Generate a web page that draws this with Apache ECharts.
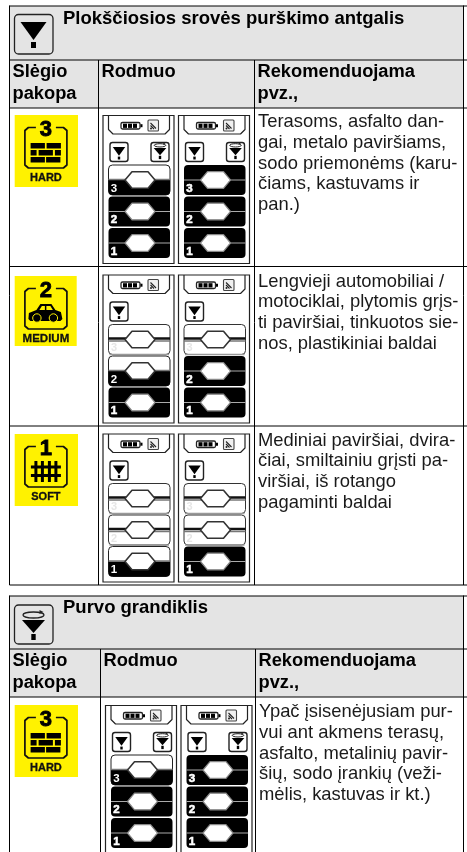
<!DOCTYPE html>
<html><head><meta charset="utf-8">
<style>html,body{margin:0;padding:0;background:#fff}#c{width:467px;height:852px}</style>
<script src="https://cdn.jsdelivr.net/npm/echarts@6/dist/echarts.min.js"></script></head>
<body><div id="c"></div>
<script>
var titles = ['Plokščiosios srovės purškimo antgalis', 'Purvo grandiklis'];
var colHeader1 = ['Slėgio', 'pakopa'];
var colHeader2 = ['Rodmuo'];
var colHeader3 = ['Rekomenduojama', 'pvz.,'];
var levelNames = ['HARD', 'MEDIUM', 'SOFT', 'HARD'];
var levelDigits = ['3', '2', '1', '3'];
var recommendations = [
  ['Terasoms, asfalto dan-', 'gai, metalo paviršiams,', 'sodo priemonėms (karu-', 'čiams, kastuvams ir', 'pan.)'],
  ['Lengvieji automobiliai /', 'motociklai, plytomis grįs-', 'ti paviršiai, tinkuotos sie-', 'nos, plastikiniai baldai'],
  ['Mediniai paviršiai, dvira-', 'čiai, smiltainiu grįsti pa-', 'viršiai, iš rotango', 'pagaminti baldai'],
  ['Ypač įsisenėjusiam pur-', 'vui ant akmens terasų,', 'asfalto, metalinių pavir-', 'šių, sodo įrankių (veži-', 'mėlis, kastuvas ir kt.)']
];
// segment state top→bottom: 0 empty, 1 half, 2 full
var leftPanels  = [[1,2,2],[0,1,2],[0,0,1],[1,2,2]];
var rightPanels = [[2,2,2],[0,2,2],[0,0,2],[2,2,2]];
var showFunnel  = [true,false,false,true];

var FONT = '"Liberation Sans", Arial, sans-serif';
var els = [];
function rect(x,y,w,h,o){o=o||{};els.push({type:'rect',silent:true,shape:{x:x,y:y,width:w,height:h,r:o.r||0},style:{fill:o.fill||'none',stroke:o.stroke||null,lineWidth:o.lw||0}});}
function line(x1,y1,x2,y2,c,w){els.push({type:'line',silent:true,shape:{x1:x1,y1:y1,x2:x2,y2:y2},style:{stroke:c||'#000',lineWidth:w||1}});}
function poly(p,o){els.push({type:'polygon',silent:true,shape:{points:p},style:{fill:o.fill||'none',stroke:o.stroke||null,lineWidth:o.lw||0,lineJoin:'round'}});}
function pl(p,c,w){els.push({type:'polyline',silent:true,shape:{points:p},style:{fill:'none',stroke:c,lineWidth:w,lineJoin:'round'}});}
function circ(x,y,r,o){els.push({type:'circle',silent:true,shape:{cx:x,cy:y,r:r},style:{fill:o.fill||'none',stroke:o.stroke||null,lineWidth:o.lw||0}});}
function text(s,x,y,font,fill,al,sw){var st={text:s,font:font,fill:fill||'#000',textAlign:al||'left',textVerticalAlign:'middle'};if(sw){st.stroke=fill;st.lineWidth=sw;}els.push({type:'text',silent:true,x:x,y:y,style:st});}

function nozzle(x,y,s,c){
  poly([[x-13*s,y],[x+13*s,y],[x,y+18*s]],{fill:c});
  rect(x-2.5*s,y+20*s,5*s,6*s,{fill:c});
}
function funnel(x,y,s){ // y = bottom of the rotating-arrow ring
  var lw=Math.max(1,1.3*s);
  els.push({type:'ellipse',silent:true,shape:{cx:x,cy:y-3*s,rx:10.5*s,ry:3*s},style:{fill:'none',stroke:'#222',lineWidth:lw}});
  poly([[x+6*s,y-8*s],[x+10*s,y-6*s],[x+6*s,y-4*s]],{fill:'#222'});
  poly([[x-11.5*s,y+2*s],[x+11.5*s,y+2*s],[x,y+15*s]],{fill:'#000'});
  rect(x-2.2*s,y+16*s,4.4*s,6*s,{fill:'#000'});
}
function segment(x,y,state,digit){
  var w=61.5,h=30,cy=y+15;
  if(state===2){
    rect(x,y,w,h,{fill:'#000',r:4});
    line(x,cy,x+w,cy,'#aaa',1);
  } else if(state===1){
    rect(x,y,w,h,{fill:'#fff',stroke:'#222',lw:1,r:4});
    els.push({type:'rect',silent:true,shape:{x:x,y:cy,width:w,height:h/2,r:[0,0,4,4]},style:{fill:'#000'}});
    line(x,cy-0.5,x+w,cy-0.5,'#777',1.5);
  } else {
    rect(x,y,w,h,{fill:'#fff',stroke:'#333',lw:1,r:4});
    line(x+1,y+h,x+w-1,y+h,'#999',1.5);
    line(x,cy-1,x+w,cy-1,'#111',2.4);
    line(x,cy+1.5,x+w,cy+1.5,'#777',1.4);
  }
  var hx=x+16.5,hw=30,hh=8.3;
  poly([[hx,cy],[hx+7,cy-hh],[hx+hw-7,cy-hh],[hx+hw,cy],[hx+hw-7,cy+hh],[hx+7,cy+hh]],{fill:'#fff',stroke:state===2?'#888':'#333',lw:state===2?1.2:1.6});
  if(state===0) text(digit,x+5.5,y+23.5,'bold 11px '+FONT,'#e6e6e6','center');
  else text(digit,x+5.5,y+23.5,'bold 11.5px '+FONT,'#fff','center',state===2?0.6:0);
}
function panel(x,y,states,fn){
  rect(x,y,71,148,{stroke:'#222',lw:1.2,fill:'#fff'});
  pl([[x+5.5,y],[x+5.5,y+14],[x+10,y+18.5],[x+62,y+18.5],[x+66.5,y+14],[x+66.5,y]],'#222',1.2);
  // battery
  rect(x+18,y+7,19,6.5,{fill:'#fff',stroke:'#222',lw:1.3,r:1.5});
  rect(x+20,y+8.2,4,4.2,{fill:'#000'});rect(x+25,y+8.2,4,4.2,{fill:'#000'});rect(x+30,y+8.2,4,4.2,{fill:'#000'});
  rect(x+37.5,y+8.7,2,3,{fill:'#000'});
  // signal
  rect(x+45,y+4.5,10.5,11,{fill:'#f0f0f0',stroke:'#444',lw:1.1,r:1});
  pl([[x+47.5,y+7.5],[x+53,y+13]],'#222',1.1);pl([[x+47.5,y+10],[x+51,y+13.5]],'#222',1.1);circ(x+48,y+13,1,{fill:'#222'});
  // icons
  rect(x+7,y+27,18,19,{fill:'#fff',stroke:'#222',lw:1.4,r:2.5});
  nozzle(x+16,y+31.5,0.48,'#000');
  if(fn){
    rect(x+48,y+27,18,19,{fill:'#fff',stroke:'#222',lw:1.4,r:2.5});
    funnel(x+57,y+31.5,0.55);
  }
  var ys=[49.5,81,112.5], dg=['3','2','1'];
  for(var i=0;i<3;i++) segment(x+5.5,y+ys[i],states[i],dg[i]);
}
function badge(i,x,y,w,h){
  rect(x,y,w,h,{fill:'#fff200'});
  var cx=x+31.2, top=y+12.5, bot=y+53;
  pl([[cx-10,top],[cx-17.5,top],[cx-21,top+3],[cx-21,bot-3],[cx-17.5,bot],[cx+17.5,bot],[cx+21,bot-3],[cx+21,top+3],[cx+17.5,top],[cx+10,top]],'#111',1.7);
  text(levelDigits[i],cx,y+15,'bold 22px '+FONT,'#000','center',0.8);
  text(levelNames[i],cx,bot+9.5,'bold '+(levelNames[i]==='MEDIUM'?'11.5':'11')+'px '+FONT,'#111','center',0.3);
  if(levelDigits[i]==='3'){
    var bx=cx-15.3,by=y+28;
    rect(bx,by,14.3,5.5,{fill:'#000'});rect(bx+16,by,14.3,5.5,{fill:'#000'});
    rect(bx,by+7,6,5.5,{fill:'#000'});rect(bx+8,by+7,14.3,5.5,{fill:'#000'});rect(bx+24.3,by+7,6,5.5,{fill:'#000'});
    rect(bx,by+14,14.3,5.5,{fill:'#000'});rect(bx+15.5,by+14,14.3,5.5,{fill:'#000'});
  } else if(levelDigits[i]==='2'){
    var c=cx-0.5, b=y+42;
    poly([[c-17,b+1],[c-16.5,b-5],[c-9,b-8],[c-5,b-14],[c+6,b-14],[c+10,b-8],[c+15.5,b-6],[c+17,b+1],[c+15,b+3],[c-15,b+3]],{fill:'#000'});
    poly([[c-6,b-8],[c-3.5,b-12],[c-0.5,b-12],[c-0.5,b-8]],{fill:'#fff200'});
    poly([[c+1,b-8],[c+1,b-12],[c+5,b-12],[c+7.5,b-8]],{fill:'#fff200'});
    circ(c-8.5,b,4.2,{fill:'#000',stroke:'#fff200',lw:1});circ(c+8,b,4.2,{fill:'#000',stroke:'#fff200',lw:1});
  } else {
    var fy=y+27;
    [-10,-3.5,3.5,10].forEach(function(d){rect(cx+d-1.5,fy,3,21,{fill:'#000'});});
    rect(cx-15,fy+4.5,30,3,{fill:'#000'});rect(cx-15,fy+13,30,3,{fill:'#000'});
  }
}
function text2(a,x,y,f){a.forEach(function(s,i){text(s,x,y+i*21.5,f+FONT,'#000');});}
function tableFrame(top,h1,h2,bottoms,cx1,cx2,closed){
  var L=9.5,R=463.5,last=bottoms[bottoms.length-1];
  rect(L,top,R-L,h1-top,{fill:'#e4e4e4'});
  rect(L,h1,R-L,h2-h1,{fill:'#e4e4e4'});
  line(L,top,467,top,'#000',1);
  line(L,h1,467,h1,'#000',1);
  line(L,h2,467,h2,'#000',1);
  bottoms.forEach(function(b,i){ if(closed||i<bottoms.length-1) line(L,b,467,b,'#000',1);});
  line(L,top-0.5,L,last,'#000',1);
  line(R,top-0.5,R,last,'#000',1);
  line(cx1,h1,cx1,last,'#000',1);
  line(cx2,h1,cx2,last,'#000',1);
  text2(colHeader1,L+3,h1+12,'bold 18.3px ');
  text2(colHeader2,cx1+3,h1+12,'bold 18.3px ');
  text2(colHeader3,cx2+3,h1+12,'bold 18.3px ');
}

// Table 1
tableFrame(6,60,108,[266.5,426,585],98.5,254.5,true);
rect(14.5,14.5,38.5,39.5,{fill:'#e4e4e4',stroke:'#222',lw:1.3,r:4});
nozzle(33.5,22,1,'#000');
text(titles[0],63,19,'bold 18.5px '+FONT,'#000');
// Table 2
tableFrame(596,649,697,[852],100.5,255.5,false);
rect(14.5,605,38.5,39,{fill:'#e4e4e4',stroke:'#222',lw:1.3,r:4});
funnel(33.5,618,1);
text(titles[1],63,608,'bold 18.5px '+FONT,'#000');

var rowY=[115.5,275,434,705.5], P1=[103,103,103,105.5], P2=[178.5,178.5,178.5,181], tx=[258,258,258,259];
var badgeGeom=[[14.7,115,63.3,72],[14.7,276,62,70],[14.7,434,63.3,72],[14.7,705,63.3,72]];
for(var r=0;r<4;r++){
  var g=badgeGeom[r];
  badge(r,g[0],g[1],g[2],g[3]);
  panel(P1[r],rowY[r],leftPanels[r],showFunnel[r]);
  panel(P2[r],rowY[r],rightPanels[r],showFunnel[r]);
  recommendations[r].forEach(function(s,i){
    text(s,tx[r],rowY[r]+6.5+i*20.8,'18.4px '+FONT,'#1a1a1a');
  });
}
var chart=echarts.init(document.getElementById('c'),null,{renderer:'canvas'});
chart.setOption({backgroundColor:'#fff',animation:false,graphic:{elements:els}});
</script></body></html>
